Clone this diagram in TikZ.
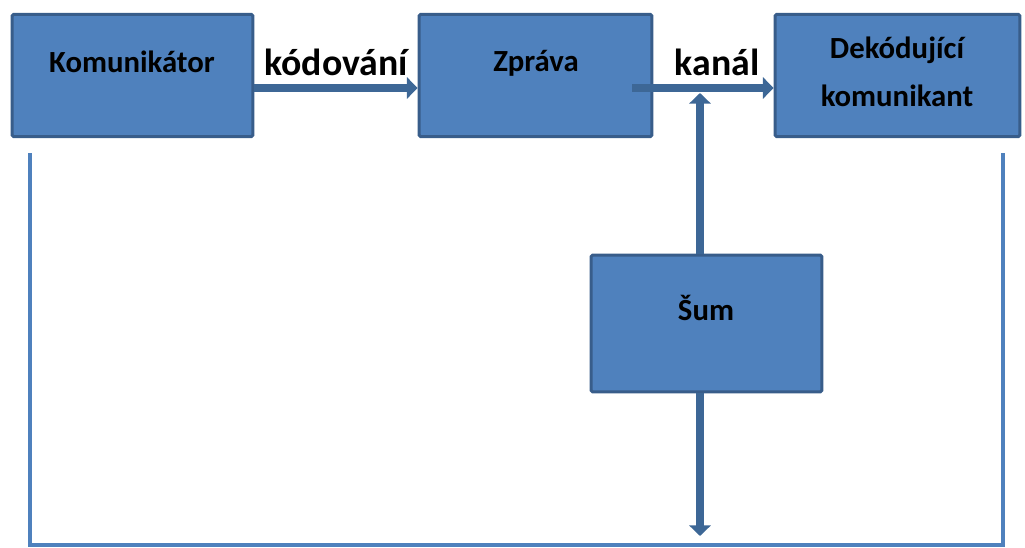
\documentclass[tikz,border=0pt]{standalone}
\usepackage{fontspec}
\setmainfont{Carlito}
\usepackage{tikz}
\usetikzlibrary{arrows.meta,positioning}
\usepackage{xcolor}
\definecolor{boxfill}{HTML}{4F81BD}
\definecolor{boxline}{HTML}{385D8A}
\definecolor{pipeblue}{HTML}{3D6796}
\definecolor{loopblue}{HTML}{4F81BD}

\begin{document}
\begin{tikzpicture}[x=0.02cm, y=-0.02cm,
  box/.style={draw=boxline, fill=boxfill, line width=1.7pt, rounded corners=1pt, minimum width=4.6cm, minimum height=2.45cm},
  lbl/.style={font=\fontsize{17.5}{27}\selectfont\bfseries, align=center},
  tag/.style={font=\fontsize{21.5}{24}\selectfont\bfseries, inner sep=0pt},
  pipe/.style={pipeblue, line width=5pt, -{Triangle[width=12pt,length=6pt]}},
  loop/.style={loopblue, line width=2.4pt}]
  \useasboundingbox (0,0) rectangle (1025,548);
  % boxes
  \node[box, minimum width=4.82cm] (kom) at (132.5,75.5) {};
  \node[box, minimum width=4.66cm] (zpr) at (535.5,75.5) {};
  \node[box, minimum width=4.9cm] (dek) at (897.5,75.5) {};
  \node[box, minimum width=4.62cm, minimum height=2.74cm] (sum) at (706.5,323.5) {};
  \node[lbl] (komt) at (132,62) {Komunikátor};
  \node[lbl] (zprt) at (536,63) {Zpráva};
  \node[lbl] (dekt) at (897,72) {Dekódující\\komunikant};
  \node[lbl] (sumt) at (706,308) {Šum};
  % arrows
  \coordinate (row) at (0,88);
  \coordinate (kstart) at (632,88);
  \coordinate (nup) at (700,93);
  \coordinate (ndown) at (700,536);
  \draw[pipe] (kom.east |- row) -- (zpr.west |- row);
  \draw[pipe] (kstart) -- (dek.west |- row);
  \draw[pipe] (nup |- sum.north) -- (nup);
  \draw[pipe] (ndown |- sum.south) -- (ndown);
  \node[tag] (kod) at (336,62) {kódování};
  \node[tag] (kan) at (717,62) {kanál};
  % feedback line
  \coordinate (fb1) at (30,153);
  \coordinate (fb2) at (30,545);
  \coordinate (fb3) at (1003,545);
  \coordinate (fb4) at (1003,153);
  \draw[loop] (fb1) -- (fb2) -- (fb3) -- (fb4);
\end{tikzpicture}
\end{document}
